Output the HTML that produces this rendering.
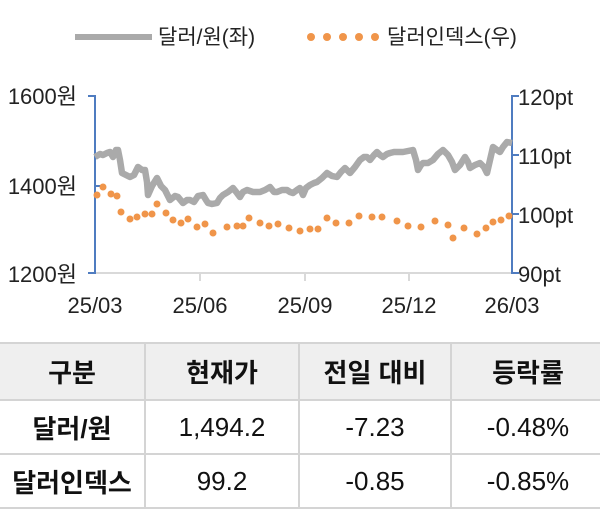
<!DOCTYPE html>
<html><head><meta charset="utf-8"><style>
body{margin:0;width:600px;height:504px;background:#fff;overflow:hidden;font-family:"Liberation Sans","Noto Sans CJK KR",sans-serif;}
svg{position:absolute;left:0;top:0}
table{position:absolute;left:-2px;top:342px;border-collapse:collapse;font-size:26px;color:#111;table-layout:fixed;width:606px}
td{border:2px solid #d4d4d4;text-align:center;padding:0;white-space:nowrap;overflow:visible}
tr.h td{background:#efefef;height:55px;font-weight:bold}
tr.r td{height:52px}
td.b{font-weight:bold}
</style></head><body>
<svg width="600" height="340" font-family="Liberation Sans, Noto Sans CJK KR, sans-serif" font-size="22" fill="#222">
<line x1="75" y1="37" x2="152" y2="37" stroke="#aaa" stroke-width="6"/>
<text x="158" y="44" font-size="21">달러/원(좌)</text>
<g fill="#f0954a"><circle cx="311" cy="37" r="4"/><circle cx="327" cy="37" r="4"/><circle cx="343" cy="37" r="4"/><circle cx="359" cy="37" r="4"/><circle cx="375" cy="37" r="4"/></g>
<text x="387" y="44" font-size="21">달러인덱스(우)</text>
<line x1="95" y1="273" x2="512" y2="273" stroke="#d9d9d9" stroke-width="2"/>
<g stroke="#d9d9d9" stroke-width="2"><line x1="200" y1="273" x2="200" y2="281"/><line x1="305" y1="273" x2="305" y2="281"/><line x1="409" y1="273" x2="409" y2="281"/></g>
<g stroke="#4f7cc0" stroke-width="2" fill="none">
<path d="M88 96H95V273H88M95 186H102"/>
<path d="M519 96H512V273H519M512 155H519M512 214H519"/>
</g>
<g text-anchor="end"><text x="77" y="104">1600원</text><text x="77" y="194">1400원</text><text x="77" y="282">1200원</text></g>
<g><text x="518" y="105">120pt</text><text x="518" y="164">110pt</text><text x="518" y="223">100pt</text><text x="518" y="282">90pt</text></g>
<g text-anchor="middle"><text x="95" y="313">25/03</text><text x="200" y="313">25/06</text><text x="305" y="313">25/09</text><text x="409" y="313">25/12</text><text x="512" y="313">26/03</text></g>
<polyline fill="none" stroke="#aaa" stroke-width="6.5" stroke-linejoin="round" points="95,157 100,154 103,155 107,153 110,152 113,157 116,150 118,150 120,160 122,173 126,175 130,177 134,175 138,167 142,170 145,170 147,182 148,195 152,186 157,178 161,186 165,190 168,196 170,200 175,196 178,197 183,203 187,200 190,200 194,202 198,196 203,195 206,200 208,203 212,204 217,203 220,198 223,195 228,192 233,188 237,193 240,197 243,192 247,190 253,192 260,192 265,190 270,187 274,192 277,192 282,190 287,190 290,192 293,193 297,190 300,188 303,195 306,188 310,185 314,183 317,182 322,178 327,173 332,176 337,177 341,172 345,168 350,173 355,167 360,160 364,157 367,157 370,160 374,155 377,152 380,155 383,157 387,154 390,153 394,152 397,152 403,152 408,151 413,150 416,160 418,170 421,165 423,163 428,163 433,160 438,154 443,150 448,155 452,162 455,170 460,165 465,157 468,162 470,168 475,165 480,163 484,167 487,173 490,160 493,147 497,150 500,152 503,147 507,142 512,143"/>
<g fill="#f0954a">
<circle cx="97" cy="195" r="3.5"/><circle cx="103" cy="187" r="3.5"/><circle cx="111" cy="194" r="3.5"/><circle cx="117" cy="196" r="3.5"/><circle cx="121" cy="212" r="3.5"/><circle cx="130" cy="219" r="3.5"/><circle cx="137" cy="217" r="3.5"/><circle cx="145" cy="214" r="3.5"/><circle cx="152" cy="214" r="3.5"/><circle cx="157" cy="204" r="3.5"/><circle cx="166" cy="213" r="3.5"/><circle cx="173" cy="220" r="3.5"/><circle cx="181" cy="223" r="3.5"/><circle cx="188" cy="219" r="3.5"/><circle cx="197" cy="227" r="3.5"/><circle cx="205" cy="224" r="3.5"/><circle cx="213" cy="233" r="3.5"/><circle cx="227" cy="227" r="3.5"/><circle cx="237" cy="226" r="3.5"/><circle cx="243" cy="226" r="3.5"/><circle cx="249" cy="218" r="3.5"/><circle cx="260" cy="223" r="3.5"/><circle cx="269" cy="226" r="3.5"/><circle cx="278" cy="224" r="3.5"/><circle cx="289" cy="228" r="3.5"/><circle cx="300" cy="231" r="3.5"/><circle cx="310" cy="229" r="3.5"/><circle cx="318" cy="229" r="3.5"/><circle cx="327" cy="218" r="3.5"/><circle cx="336" cy="223" r="3.5"/><circle cx="349" cy="223" r="3.5"/><circle cx="359" cy="216" r="3.5"/><circle cx="372" cy="217" r="3.5"/><circle cx="382" cy="217" r="3.5"/><circle cx="397" cy="221" r="3.5"/><circle cx="408" cy="226" r="3.5"/><circle cx="421" cy="227" r="3.5"/><circle cx="435" cy="221" r="3.5"/><circle cx="448" cy="225" r="3.5"/><circle cx="453" cy="238" r="3.5"/><circle cx="464" cy="228" r="3.5"/><circle cx="477" cy="234" r="3.5"/><circle cx="486" cy="228" r="3.5"/><circle cx="493" cy="222" r="3.5"/><circle cx="501" cy="220" r="3.5"/><circle cx="509" cy="216" r="3.5"/>
</g>
</svg>
<table>
<colgroup><col style="width:146px"><col style="width:154px"><col style="width:152px"><col style="width:154px"></colgroup>
<tr class="h"><td>구분</td><td>현재가</td><td>전일 대비</td><td>등락률</td></tr>
<tr class="r"><td class="b">달러/원</td><td>1,494.2</td><td>-7.23</td><td>-0.48%</td></tr>
<tr class="r"><td class="b">달러인덱스</td><td>99.2</td><td>-0.85</td><td>-0.85%</td></tr>
</table>
</body></html>
